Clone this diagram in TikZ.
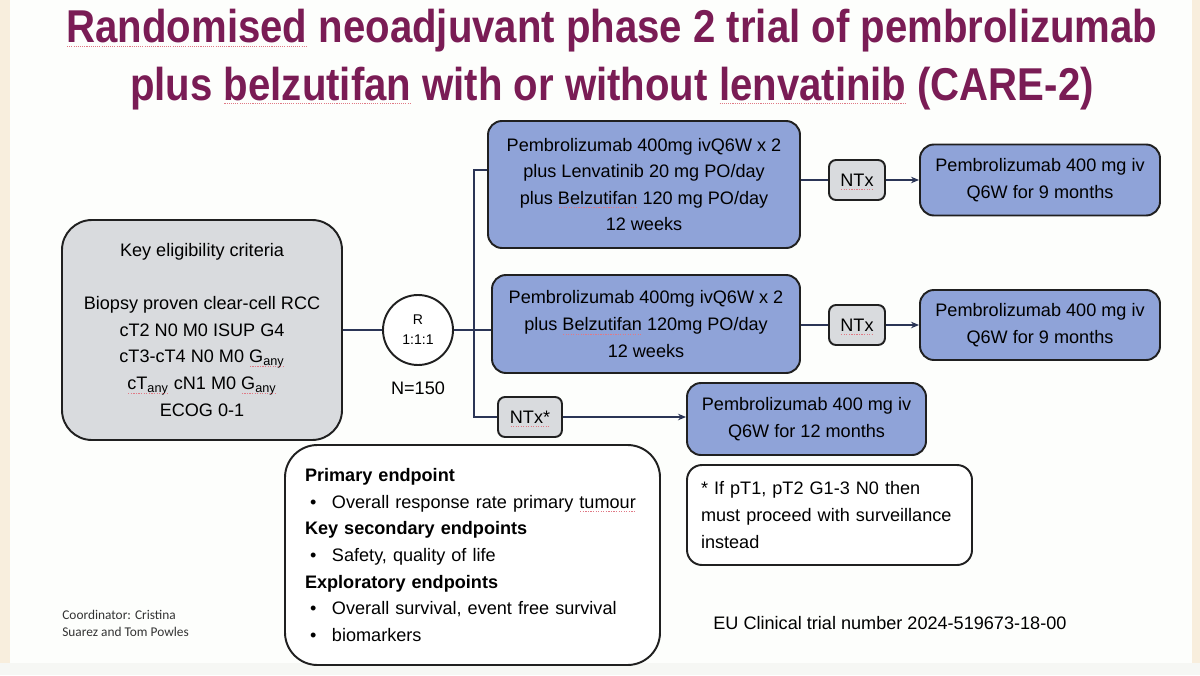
\documentclass[tikz,border=0pt]{standalone}
\usepackage{fontspec}
\setmainfont{Liberation Sans}
\newfontfamily\coordfont{Carlito}
\usepackage{tikz}
\usetikzlibrary{arrows.meta,positioning,calc}

\definecolor{titlepurple}{HTML}{7A1C55}
\definecolor{armblue}{HTML}{8FA3D8}
\definecolor{eliggray}{HTML}{D9DBDE}
\definecolor{boxline}{HTML}{202020}
\definecolor{linknavy}{HTML}{2B3556}
\definecolor{squig}{HTML}{E07A86}
\definecolor{slidecream}{HTML}{F8EEDD}
\definecolor{slidewhite}{HTML}{FDFEFC}
\definecolor{slidefoot}{HTML}{F6F7F4}

\newcommand\bodyfont{\fontsize{10.3pt}{15.1pt}\selectfont}
% red spell-check squiggle under a word
\newsavebox\splbox
\newcommand\spl[1]{\sbox\splbox{#1}\rlap{\usebox\splbox}\smash{\raisebox{-2.2pt}{\color{squig}\hbox to\wd\splbox{\xleaders\hbox to 1.4pt{\hss\rule{0.7pt}{0.45pt}\hss}\hfill}}}}
\newcommand\bul{\hspace*{1mm}\makebox[4.4mm][l]{\textbullet}}

\tikzset{
  box/.style={draw=boxline, line width=1.1pt, align=center, inner sep=0pt, font=\bodyfont},
  armbox/.style={box, fill=armblue, rounded corners=2.8mm},
  ntxbox/.style={box, fill=eliggray, rounded corners=1.4mm, minimum height=8mm},
  link/.style={draw=linknavy, line width=0.8pt},
  linkarrow/.style={link, -{Stealth[length=1.6mm,width=1.3mm]}},
}

\begin{document}
\begin{tikzpicture}[x=0.2mm, y=-0.2mm]
  \useasboundingbox (0,0) rectangle (1200,675);
  \fill[slidecream] (0,0) rectangle (1200,663);
  \fill[slidewhite] (10,0) rectangle (1192,663);
  \fill[slidefoot]  (0,663) rectangle (1200,675);

  % title
  \node[anchor=base, inner sep=0, text=titlepurple, font={\fontsize{26.2pt}{32pt}\selectfont\bfseries}] (title) at (612,43)
    {\scalebox{0.872}[1]{\spl{Randomised} neoadjuvant phase 2 trial of pembrolizumab}};
  \node[anchor=base, inner sep=0, text=titlepurple, font={\fontsize{26.2pt}{32pt}\selectfont\bfseries}] (subtitle) at (612,100)
    {\scalebox{0.872}[1]{plus \spl{belzutifan} with or without \spl{lenvatinib} (CARE-2)}};

  % eligibility and randomisation
  \node[box, fill=eliggray, rounded corners=6mm, minimum width=56mm, minimum height=44mm] (elig) at (202,330)
    {Key eligibility criteria\\[5.3mm] Biopsy proven clear-cell RCC\\ cT2 N0 M0 ISUP G4\\
     cT3-cT4 N0 M0 \spl{G\textsubscript{any}}\\ \spl{cT\textsubscript{any}} cN1 M0 \spl{G\textsubscript{any}}\\ ECOG 0-1};
  \node[circle, draw=boxline, line width=1.1pt, fill=white, minimum size=14mm, inner sep=0, align=center,
        font=\fontsize{8pt}{11.4pt}\selectfont] (rand) at (418,330) {R\\1:1:1};
  \node[font=\bodyfont, inner sep=0] (nsize) at (418,388) {N=150};

  % arms
  \node[armbox, minimum width=62.4mm, minimum height=25.4mm] (arm1) at (644,184.5)
    {Pembrolizumab 400mg ivQ6W x 2\\ plus Lenvatinib 20 mg PO/day\\ plus \spl{Belzutifan} 120 mg PO/day\\ 12 weeks};
  \node[armbox, minimum width=61.6mm, minimum height=19.6mm] (arm2) at (646,324)
    {Pembrolizumab 400mg ivQ6W x 2\\ plus \spl{Belzutifan} 120mg PO/day\\ 12 weeks};
  \node[ntxbox, minimum width=11.2mm] (ntx1) at (857,180) {\spl{NTx}};
  \node[ntxbox, minimum width=11.2mm] (ntx2) at (857,325) {\spl{NTx}};
  \node[ntxbox, minimum width=12.8mm] (ntxs) at (530,417) {\spl{NTx*}};
  \node[armbox, minimum width=48mm, minimum height=14.2mm] (main1) at (1040,180)
    {Pembrolizumab 400 mg iv\\ Q6W for 9 months};
  \node[armbox, minimum width=48mm, minimum height=14mm] (main2) at (1040,325)
    {Pembrolizumab 400 mg iv\\ Q6W for 9 months};
  \node[armbox, minimum width=47.8mm, minimum height=14.4mm] (main3) at (806.5,419)
    {Pembrolizumab 400 mg iv\\ Q6W for 12 months};

  % endpoints and footnote
  \node[box, fill=white, rounded corners=6.5mm, minimum width=75mm, minimum height=44mm, text width=67mm,
        align=left, inner xsep=4mm] (ends) at (472.5,555)
    {\textbf{Primary endpoint}\\ \bul Overall response rate primary \spl{tumour}\\
     \textbf{Key secondary endpoints}\\ \bul Safety, quality of life\\
     \textbf{Exploratory endpoints}\\ \bul Overall survival, event free survival\\ \bul biomarkers};
  \node[box, fill=white, rounded corners=3mm, minimum width=57mm, minimum height=20mm, text width=51.4mm,
        align=left, inner xsep=2.8mm] (note) at (829.5,515)
    {* If pT1, pT2 G1-3 N0 then\\ must proceed with surveillance\\ instead};
  \node[anchor=west, inner sep=0, font=\bodyfont] (eunum) at (713,623) {EU Clinical trial number 2024-519673-18-00};
  \node[anchor=west, align=left, inner sep=0, text=black!80, font=\coordfont\fontsize{7.6pt}{9.7pt}\selectfont] (coord) at (62,623.5)
    {Coordinator: Cristina\\ Suarez and Tom Powles};

  % connectors
  \coordinate (bustop) at (474,170);
  \coordinate (busbot) at (474,417);
  \draw[link] (elig) -- (rand);
  \draw[link] (rand.east) -- (rand.east -| arm2.west);
  \draw[link] (arm1.west |- bustop) -- (bustop) -- (busbot) -- (ntxs.west);
  \draw[link] (arm1.east |- ntx1) -- (ntx1.west);
  \draw[linkarrow] (ntx1) -- (main1);
  \draw[link] (arm2.east |- ntx2) -- (ntx2.west);
  \draw[linkarrow] (ntx2) -- (main2);
  \draw[linkarrow] (ntxs.east) -- (ntxs.east -| main3.west);
\end{tikzpicture}
\end{document}
